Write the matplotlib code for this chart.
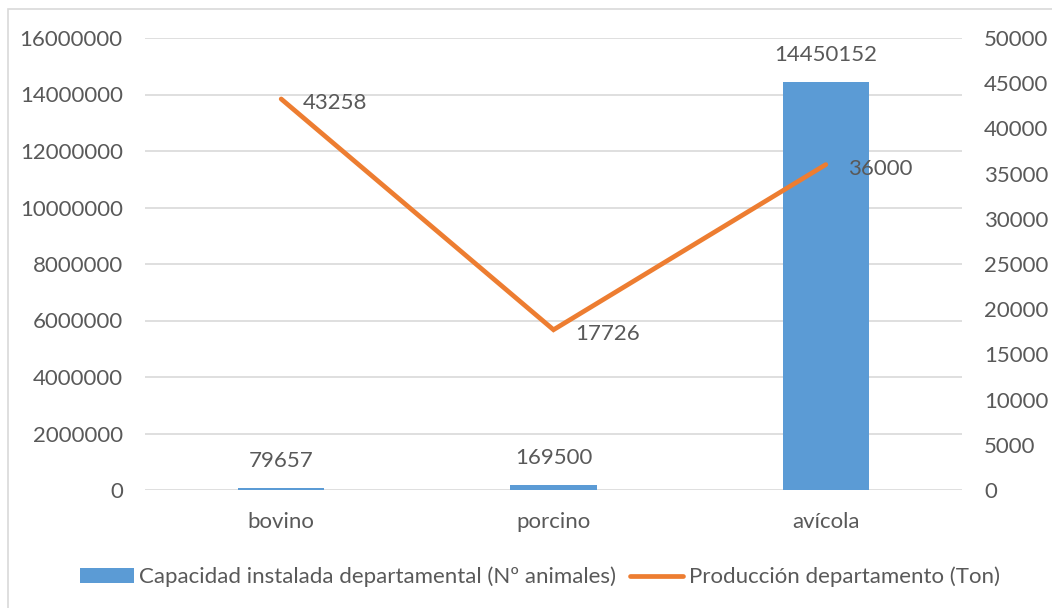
import matplotlib
matplotlib.use("Agg")
import matplotlib.pyplot as plt
from matplotlib.patches import Rectangle
from matplotlib.lines import Line2D
from matplotlib.patches import Patch
from matplotlib.ticker import StrMethodFormatter

categories = ["bovino", "porcino", "avícola"]
capacidad = [79657, 169500, 14450152]
produccion = [43258, 17726, 36000]
bar_name = "Capacidad instalada departamental (Nº animales)"
line_name = "Producción departamento (Ton)"

plt.rcParams['font.family'] = ['Lato', 'DejaVu Sans']
TXT = "#595959"
BLUE = "#5B9BD5"
ORANGE = "#ED7D31"
GRID = "#D9D9D9"
FS = 16

fig = plt.figure(figsize=(10.52, 6.08), dpi=100)
fig.patches.append(Rectangle((8/1052, -0.1), 1.2, 1 - 9/608 + 0.1, transform=fig.transFigure,
                             fill=False, edgecolor="#D9D9D9", linewidth=1.2, zorder=0))

ax = fig.add_axes([145/1052, 1 - 490/608, (962-145)/1052, (490-38)/608])
ax2 = ax.twinx()

x = list(range(len(categories)))
ax.bar(x, capacidad, width=0.316, color=BLUE, zorder=2)
ax.set_xlim(-0.5, 2.5)
ax.set_ylim(0, 16000000)
ax.set_yticks(range(0, 16000001, 2000000))
ax.yaxis.set_major_formatter(StrMethodFormatter("{x:.0f}"))
ax.grid(axis='y', color=GRID, linewidth=1.2, zorder=0)
ax.set_axisbelow(True)
ax.set_xticks(x)
ax.set_xticklabels(categories)
for s in ax.spines.values():
    s.set_visible(False)
for s in ax2.spines.values():
    s.set_visible(False)
ax.tick_params(axis='both', length=0, labelsize=FS, labelcolor=TXT)
ax.tick_params(axis='y', pad=16)
ax.tick_params(axis='x', pad=16)

for xi, v in zip(x, capacidad):
    ax.annotate(str(v), (xi, v), xytext=(0, 27), textcoords='offset pixels',
                ha='center', va='center', fontsize=FS, color=TXT)

ax2.set_ylim(0, 50000)
ax2.set_yticks(range(0, 50001, 5000))
ax2.yaxis.set_major_formatter(StrMethodFormatter("{x:.0f}"))
ax2.tick_params(axis='y', length=0, labelsize=FS, labelcolor=TXT, pad=16)
ax2.plot(x, produccion, color=ORANGE, linewidth=3.4, solid_capstyle='round',
         solid_joinstyle='miter', zorder=3)
for xi, v in zip(x, produccion):
    ax2.annotate(str(v), (xi, v), xytext=(22, -4), textcoords='offset pixels',
                 ha='left', va='center', fontsize=FS, color=TXT)

handles = [Patch(facecolor=BLUE, edgecolor='none'),
           Line2D([0], [0], color=ORANGE, linewidth=3.4, solid_capstyle='round')]
fig.legend(handles, [bar_name, line_name], loc='center', bbox_to_anchor=(540/1052, 1 - 577/608),
           ncol=2, frameon=False, fontsize=FS, labelcolor=TXT, handlelength=2.4,
           handleheight=0.6, handletextpad=0.25, columnspacing=0.6)

fig.savefig("out.png", dpi=100)
